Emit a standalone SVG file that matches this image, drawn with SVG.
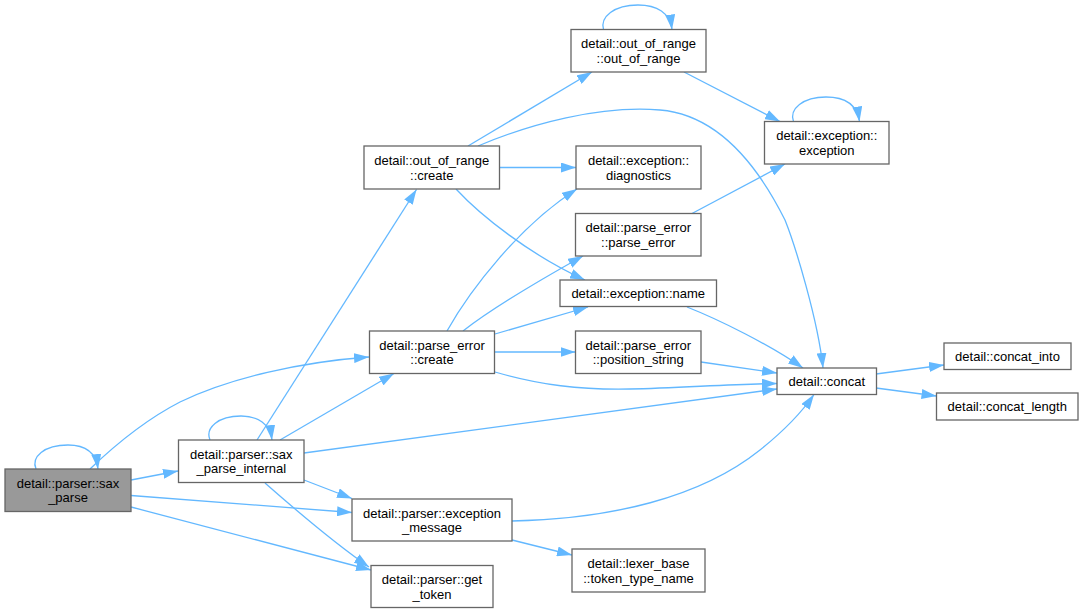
<svg xmlns="http://www.w3.org/2000/svg" width="1084" height="613" viewBox="0 0 1084 613">
<defs>
<marker id="arr" viewBox="0 0 15 10" refX="15" refY="5" markerWidth="15" markerHeight="10" markerUnits="userSpaceOnUse" orient="auto">
<path d="M0,0 L15,5 L0,10 z" fill="#63b8ff"/>
</marker>
</defs>
<style>
.node rect{fill:#ffffff;stroke:#666666;stroke-width:1.3}
.node.main rect{fill:#999999}
.node text{font-family:"Liberation Sans",Arial,sans-serif;font-size:13px;fill:#000000;text-anchor:middle}
.edges path{fill:none;stroke:#63b8ff;stroke-width:1.3;marker-end:url(#arr)}
</style>
<rect x="0" y="0" width="1084" height="613" fill="#ffffff"/>
<g id="edges" class="edges">
<path d="M36,469 C31,457 44,445 68,445 C85,445 96,452 98,469"/>
<path d="M90,469 C115,445 145,420 180,402 C230,378 300,362 369,357"/>
<path d="M131,480 L178,471"/>
<path d="M131,495.5 L352,512.5"/>
<path d="M131,507 L371,570"/>
<path d="M210,440 C205,428 218,416 241,416 C258,416 270,424 272,440"/>
<path d="M257,440 L416.5,189.5"/>
<path d="M280,440 L394,373.5"/>
<path d="M304,453 L777,389"/>
<path d="M304,480 L352,498.5"/>
<path d="M265,483 C290,505 330,540 369,567"/>
<path d="M468,146 L592,72"/>
<path d="M478,146 C530,124 600,105 660,110 C720,115 760,170 785,220 C795,245 818,320 823,368"/>
<path d="M500,167.5 L576,167.5"/>
<path d="M456,189 C480,215 530,255 585,280"/>
<path d="M603.5,29.5 C600,17 614,5 638,5 C657,5 670,13 672,29.5"/>
<path d="M684,72 L780,121.5"/>
<path d="M793.5,121.5 C789,109 803,97 826,97 C845,97 857,105 859.5,121.5"/>
<path d="M447,331 C470,290 520,225 577,189"/>
<path d="M463,331 C490,310 540,280 583,256"/>
<path d="M495,334 L588,307"/>
<path d="M495,352 L575.5,352"/>
<path d="M495,372 C540,385 580,390 630,389 C680,388 730,384 777,383.5"/>
<path d="M692,213.5 L785,164"/>
<path d="M687,307 C720,320 770,345 803,368"/>
<path d="M701,362 L777,373"/>
<path d="M876,374 L944,365"/>
<path d="M876,388 L936.5,396"/>
<path d="M512,521 C610,519 700,498 760,450 C785,430 802,412 814,394.5"/>
<path d="M512,540 L572,555"/>
</g>
<g id="n_sax_parse" class="node main"><rect x="5" y="469" width="126" height="42.5"/><text x="68" y="487.8">detail::parser::sax</text><text x="68" y="502.3">_parse</text></g>
<g id="n_sax_parse_internal" class="node"><rect x="178.5" y="440" width="125.5" height="42.5"/><text x="241.25" y="458.8">detail::parser::sax</text><text x="241.25" y="473.3">_parse_internal</text></g>
<g id="n_out_of_range_create" class="node"><rect x="364" y="146" width="135.5" height="43"/><text x="431.75" y="165">detail::out_of_range</text><text x="431.75" y="179.5">::create</text></g>
<g id="n_out_of_range_out_of_range" class="node"><rect x="571" y="29.5" width="135" height="42.5"/><text x="638.5" y="48.3">detail::out_of_range</text><text x="638.5" y="62.8">::out_of_range</text></g>
<g id="n_exception_diagnostics" class="node"><rect x="576" y="146" width="125" height="43"/><text x="638.5" y="165">detail::exception::</text><text x="638.5" y="179.5">diagnostics</text></g>
<g id="n_parse_error_parse_error" class="node"><rect x="575.5" y="213.5" width="125.5" height="42.5"/><text x="638.25" y="232.3">detail::parse_error</text><text x="638.25" y="246.8">::parse_error</text></g>
<g id="n_exception_name" class="node"><rect x="560" y="280" width="156.5" height="26.5"/><text x="638.25" y="297.8">detail::exception::name</text></g>
<g id="n_parse_error_create" class="node"><rect x="369.5" y="331" width="125" height="42.5"/><text x="432" y="349.8">detail::parse_error</text><text x="432" y="364.3">::create</text></g>
<g id="n_parse_error_position_string" class="node"><rect x="575.5" y="331" width="125.5" height="42.5"/><text x="638.25" y="349.8">detail::parse_error</text><text x="638.25" y="364.3">::position_string</text></g>
<g id="n_exception_exception" class="node"><rect x="764.5" y="121.5" width="124.5" height="42.5"/><text x="826.75" y="140.3">detail::exception::</text><text x="826.75" y="154.8">exception</text></g>
<g id="n_concat" class="node"><rect x="777" y="368" width="99.5" height="26.5"/><text x="826.75" y="385.8">detail::concat</text></g>
<g id="n_concat_into" class="node"><rect x="944" y="343" width="127" height="26.5"/><text x="1007.5" y="360.8">detail::concat_into</text></g>
<g id="n_concat_length" class="node"><rect x="936.5" y="393" width="141.5" height="27"/><text x="1007.25" y="411">detail::concat_length</text></g>
<g id="n_exception_message" class="node"><rect x="352" y="499" width="160" height="42"/><text x="432" y="517.5">detail::parser::exception</text><text x="432" y="532">_message</text></g>
<g id="n_get_token" class="node"><rect x="371" y="565.5" width="122" height="42"/><text x="432" y="584">detail::parser::get</text><text x="432" y="598.5">_token</text></g>
<g id="n_token_type_name" class="node"><rect x="572" y="549" width="133" height="43"/><text x="638.5" y="568">detail::lexer_base</text><text x="638.5" y="582.5">::token_type_name</text></g>
</svg>
